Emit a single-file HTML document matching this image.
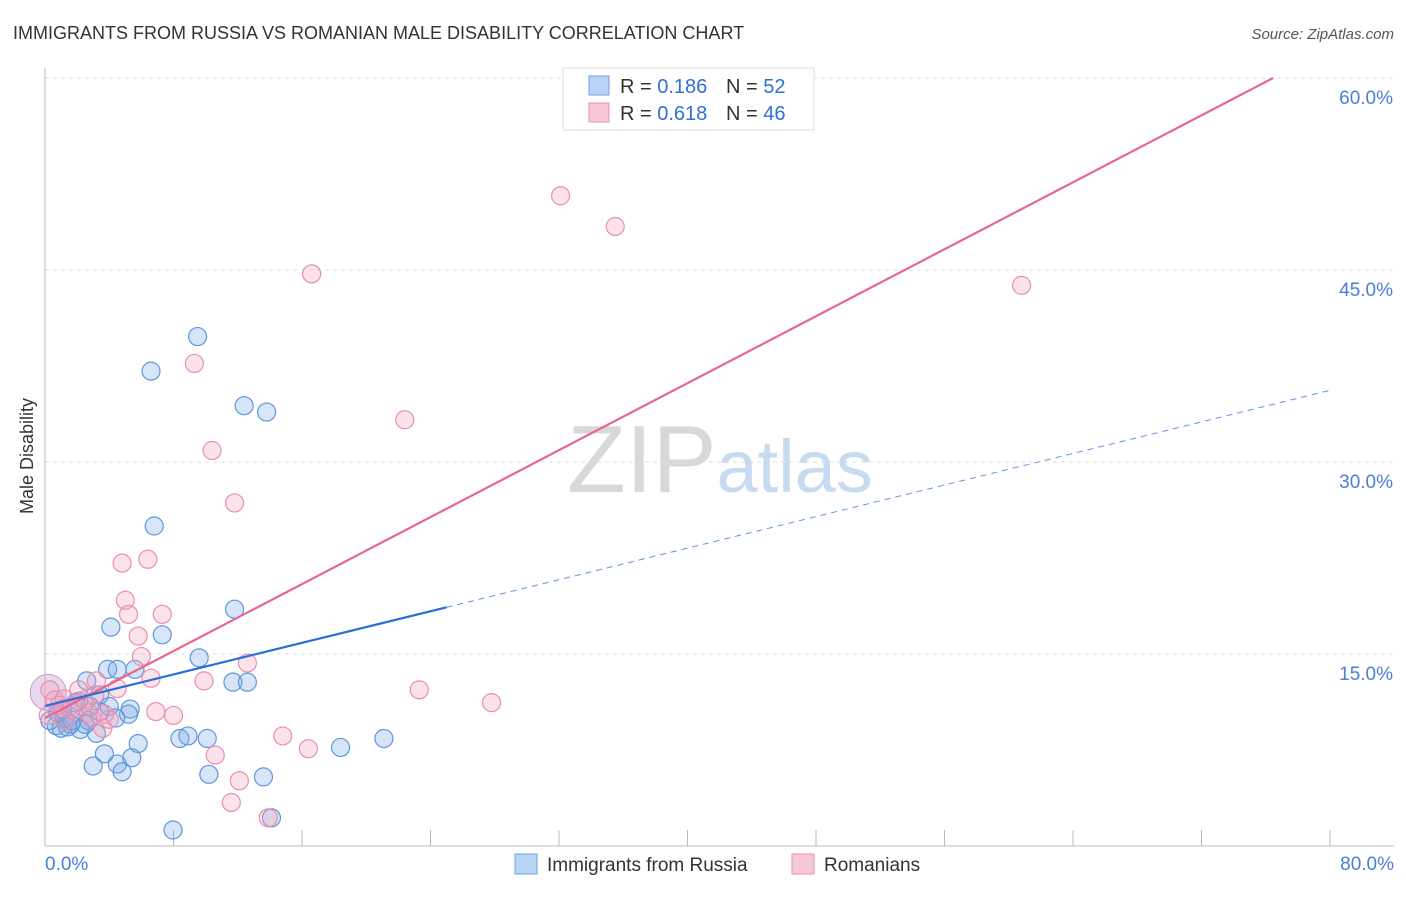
<!DOCTYPE html>
<html><head><meta charset="utf-8">
<style>
body{margin:0;background:#fff;font-family:"Liberation Sans",sans-serif;}
svg text{font-family:"Liberation Sans",sans-serif;}
</style></head>
<body>
<svg id="chart" width="1406" height="892" viewBox="0 0 1406 892" xmlns="http://www.w3.org/2000/svg">
<text x="13" y="39" font-size="18" fill="#333">IMMIGRANTS FROM RUSSIA VS ROMANIAN MALE DISABILITY CORRELATION CHART</text>
<text x="1394" y="39" font-size="15" fill="#555" text-anchor="end" font-style="italic">Source: ZipAtlas.com</text>
<text x="720" y="492" font-size="96" text-anchor="middle" fill="#ddd" font-family="Liberation Serif"><tspan fill="#d8d8d8">ZIP</tspan><tspan fill="#c8daf0" font-family="Liberation Sans" font-size="74">atlas</tspan></text>
<text transform="translate(33,456) rotate(-90)" font-size="18" fill="#333" text-anchor="middle">Male Disability</text>
<g id="grid"></g>
<g id="points"></g>
<g id="lines"></g>
<g>
<rect x="563" y="68" width="251" height="62" fill="#fff" stroke="#ddd"/>
<rect x="589" y="76" width="20" height="19" fill="#b9d3f5" stroke="#6fa0e0"/>
<text x="620" y="93" font-size="20" fill="#333">R = <tspan fill="#2f6fd6">0.186</tspan></text>
<text x="726" y="93" font-size="20" fill="#333">N = <tspan fill="#2f6fd6">52</tspan></text>
<rect x="589" y="103" width="20" height="19" fill="#f8c8d6" stroke="#e890ab"/>
<text x="620" y="120" font-size="20" fill="#333">R = <tspan fill="#2f6fd6">0.618</tspan></text>
<text x="726" y="120" font-size="20" fill="#333">N = <tspan fill="#2f6fd6">46</tspan></text>
</g>
<g>
<rect x="515" y="854" width="22" height="20" fill="#b9d3f5" stroke="#6fa0e0"/>
<text x="547" y="871" font-size="19" fill="#333">Immigrants from Russia</text>
<rect x="792" y="854" width="22" height="20" fill="#f8c8d6" stroke="#e890ab"/>
<text x="824" y="871" font-size="19" fill="#333">Romanians</text>
</g>
</svg>
<script>
const yTicks=[15,30,45,60];
const xTickLabels=["0.0%","80.0%"];
const blueX=[9.5,6.6,12.4,13.8,6.8,11.8,4.1,7.3,9.6,3.9,4.5,5.6,2.6,11.7,12.6,2.1,3.4,5.3,5.2,3.4,0.7,1.0,1.6,2.2,2.7,3.2,1.2,1.7,8.4,8.9,10.1,5.8,3.7,4.5,5.4,3.0,4.8,18.4,21.1,10.2,13.6,14.1,7.97,0.3,0.8,2.8,4.0,1.9,1.1,2.5,1.4,4.4];
const blueY=[39.8,37.1,34.4,33.9,25.0,18.5,17.1,16.5,14.7,13.8,13.8,13.8,12.9,12.8,12.8,11.3,11.8,10.7,10.3,10.5,9.4,9.2,9.5,9.1,9.8,8.8,10.0,9.8,8.4,8.6,8.4,8.0,7.2,6.4,6.9,6.25,5.8,7.7,8.4,5.6,5.4,2.2,1.25,9.8,10.4,10.9,10.9,11.2,10.7,9.5,9.3,10.0];
const pinkX=[32.1,35.5,16.6,60.8,9.3,22.4,10.4,11.8,4.8,6.4,5.0,5.2,7.3,5.8,6.0,12.6,6.6,9.9,4.5,23.3,27.8,6.9,8.0,3.7,3.6,10.6,14.8,16.4,12.1,11.6,13.9,0.3,0.6,1.2,0.9,1.9,2.4,3.1,1.6,2.7,4.0,1.3,2.1,2.9,0.2,3.2];
const pinkY=[50.8,48.4,44.7,43.8,37.7,33.3,30.9,26.8,22.1,22.4,19.2,18.1,18.1,16.4,14.8,14.3,13.1,12.9,12.3,12.2,11.2,10.5,10.2,10.3,9.2,7.1,8.6,7.6,5.1,3.4,2.2,12.2,11.4,11.5,11.0,11.0,11.4,11.8,10.6,10.4,9.9,9.8,12.2,10.0,10.2,12.9];
const pinkLine=[10.0,60.0];
const blueLine=[10.94,35.6];
const NS="http://www.w3.org/2000/svg";
const X=v=>45+v*(1285/80), Y=v=>846-v*12.8;
function mk(tag,attrs,parent){const e=document.createElementNS(NS,tag);for(const k in attrs)e.setAttribute(k,attrs[k]);parent.appendChild(e);return e;}
const grid=document.getElementById('grid');
yTicks.forEach(t=>{
 const l=mk('line',{x1:45,x2:1394,y1:Y(t),y2:Y(t),stroke:'#ddd','stroke-dasharray':'4,4'},grid);
 
 
 const tx=mk('text',{x:1393,y:Y(t)+26,'font-size':19,fill:'#4a7fd6','text-anchor':'end'},grid);
 tx.textContent=t.toFixed(1)+'%';
 
 
});
const ax=mk('line',{x1:45,x2:45,y1:68,y2:846,stroke:'#bbb'},grid);


const bx=mk('line',{x1:45,x2:1394,y1:846,y2:846,stroke:'#bbb'},grid);


for(let i=0;i<=10;i++){
 const t=mk('line',{x1:X(i*8),x2:X(i*8),y1:830,y2:846,stroke:'#bbb'},grid);
 
 
}
[[0,'start',45],[80,'end',1394]].forEach((d,i)=>{
 const t=mk('text',{x:d[2],y:870,'font-size':19,fill:'#4a7fd6','text-anchor':d[1]},grid);
 t.textContent=xTickLabels[i];
 
 
});
const pts=document.getElementById('points');
const big=mk('circle',{cx:X(0.2),cy:Y(12),r:18,fill:'rgba(200,160,210,0.4)',stroke:'#c99ac8'},pts);


blueX.forEach((v,i)=>{
 const c=mk('circle',{cx:X(v),cy:Y(blueY[i]),r:9,fill:'rgba(120,170,230,0.3)',stroke:'#5f96dc','stroke-width':1.2},pts);
 
 
});
pinkX.forEach((v,i)=>{
 const c=mk('circle',{cx:X(v),cy:Y(pinkY[i]),r:9,fill:'rgba(245,160,190,0.3)',stroke:'#e890ab','stroke-width':1.2},pts);
 
 
});
const lines=document.getElementById('lines');
const pl=mk('line',{x1:X(0),y1:Y(pinkLine[0]),x2:X(76.46),y2:Y(pinkLine[1]),stroke:'#e8668f','stroke-width':2.2},lines);


const bAt=x=>blueLine[0]+(blueLine[1]-blueLine[0])*x/80;
const bl=mk('line',{x1:X(0),y1:Y(bAt(0)),x2:X(25),y2:Y(bAt(25)),stroke:'#2a6fd8','stroke-width':2.2},lines);


const bd=mk('line',{x1:X(25),y1:Y(bAt(25)),x2:X(80),y2:Y(bAt(80)),stroke:'#5f96dc','stroke-width':1,'stroke-dasharray':'6,5'},lines);


</script>
</body></html>
